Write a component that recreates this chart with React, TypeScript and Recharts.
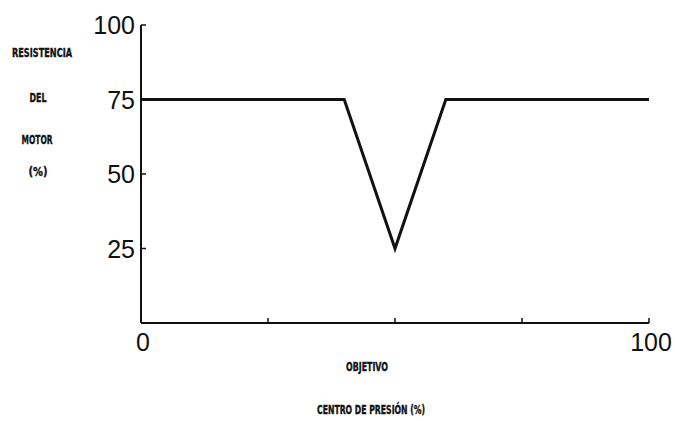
import React from "react";
import { LineChart, Line, XAxis, YAxis, Label } from "recharts";

// centre of pressure (%) vs motor resistance (%)
const centroPresion = [0, 40, 50, 60, 100];
const resistencia = [75, 75, 25, 75, 75];

const xTicks = [0, 25, 50, 75, 100];
const xTickLabels = ["0", "", "", "", "100"];
const yTicks = [25, 50, 75, 100];
const yTickLabels = ["25", "50", "75", "100"];

const yTitle = ["RESISTENCIA", "DEL", "MOTOR", "(%)"];
const xTitle = ["OBJETIVO", "CENTRO DE PRESIÓN (%)"];

const data = centroPresion.map((x, i) => ({ x, y: resistencia[i] }));

const numFont = "'Liberation Sans', Arial, sans-serif";
const titleFont = "'DejaVu Sans Condensed', 'DejaVu Sans', sans-serif";

function XTick(props: any) {
  const { x, y, index } = props;
  return (
    <g>
      <line x1={x} y1={y} x2={x} y2={y - 5} stroke="#111" strokeWidth={1.5} />
      <text x={x + 2} y={y + 28} textAnchor="middle" fontSize={25} fontFamily={numFont} fill="#111">
        {xTickLabels[index]}
      </text>
    </g>
  );
}

function YTick(props: any) {
  const { x, y, index } = props;
  return (
    <g>
      <line x1={x} y1={y} x2={x + 5} y2={y} stroke="#111" strokeWidth={1.5} />
      <text x={x - 6} y={y + 9} textAnchor="end" fontSize={25} fontFamily={numFont} fill="#111">
        {yTickLabels[index]}
      </text>
    </g>
  );
}

const yTitlePos = [
  { x: 42, y: 57, w: 60 },
  { x: 38, y: 102, w: 17 },
  { x: 37, y: 144, w: 31 },
  { x: 38, y: 176, w: 19 },
];
const xTitlePos = [
  { x: 367, y: 371, w: 42 },
  { x: 371, y: 414, w: 108 },
];

function Titles() {
  const all = [
    ...yTitle.map((t, i) => ({ t, ...yTitlePos[i] })),
    ...xTitle.map((t, i) => ({ t, ...xTitlePos[i] })),
  ];
  return (
    <g>
      {all.map((d) => (
        <text
          key={d.t}
          x={d.x}
          y={d.y}
          textAnchor="middle"
          fontSize={13}
          fontWeight="bold"
          fontFamily={titleFont}
          fill="#111"
          stroke="#111"
          strokeWidth={0.4}
          textLength={d.w}
          lengthAdjust="spacingAndGlyphs"
        >
          {d.t}
        </text>
      ))}
    </g>
  );
}

export default function App() {
  return (
    <div style={{ position: "absolute", left: 0, top: 0, background: "#fff" }}>
      <LineChart
        width={675}
        height={421}
        data={data}
        margin={{ top: 25, right: 26, bottom: 58, left: 81 }}
      >
        <XAxis
          dataKey="x"
          type="number"
          domain={[0, 100]}
          ticks={xTicks}
          height={40}
          tickLine={false}
          tickSize={0}
          tickMargin={0}
          tick={<XTick />}
          axisLine={{ stroke: "#111", strokeWidth: 2 }}
          interval={0}
        />
        <YAxis
          type="number"
          domain={[0, 100]}
          ticks={yTicks}
          width={60}
          tickLine={false}
          tickSize={0}
          tickMargin={0}
          tick={<YTick />}
          axisLine={{ stroke: "#111", strokeWidth: 2 }}
          interval={0}
        >
          <Label content={() => <Titles />} />
        </YAxis>
        <Line
          dataKey="y"
          type="linear"
          stroke="#111"
          strokeWidth={3}
          dot={false}
          isAnimationActive={false}
        />
      </LineChart>
    </div>
  );
}
